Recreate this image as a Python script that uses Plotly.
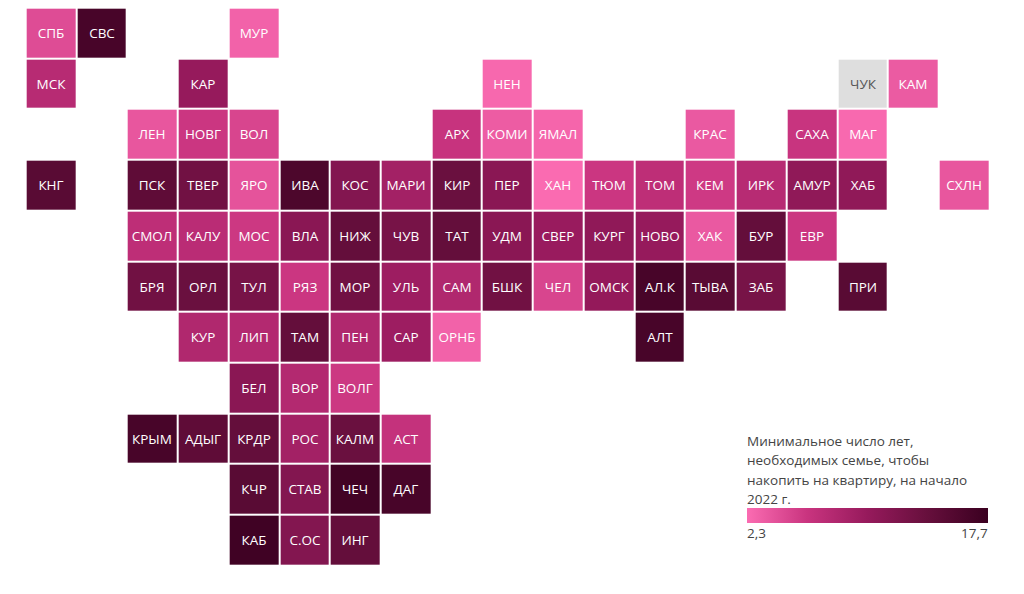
import plotly.graph_objects as go

# tile grid of Russian regions, None = no data
regions = ["СПБ", "СВС", "МУР",
           "МСК", "КАР", "НЕН", "ЧУК", "КАМ",
           "ЛЕН", "НОВГ", "ВОЛ", "АРХ", "КОМИ", "ЯМАЛ", "КРАС", "САХА", "МАГ",
           "КНГ", "ПСК", "ТВЕР", "ЯРО", "ИВА", "КОС", "МАРИ", "КИР", "ПЕР", "ХАН", "ТЮМ", "ТОМ", "КЕМ", "ИРК", "АМУР", "ХАБ", "СХЛН",
           "СМОЛ", "КАЛУ", "МОС", "ВЛА", "НИЖ", "ЧУВ", "ТАТ", "УДМ", "СВЕР", "КУРГ", "НОВО", "ХАК", "БУР", "ЕВР",
           "БРЯ", "ОРЛ", "ТУЛ", "РЯЗ", "МОР", "УЛЬ", "САМ", "БШК", "ЧЕЛ", "ОМСК", "АЛ.К", "ТЫВА", "ЗАБ", "ПРИ",
           "КУР", "ЛИП", "ТАМ", "ПЕН", "САР", "ОРНБ", "АЛТ",
           "БЕЛ", "ВОР", "ВОЛГ",
           "КРЫМ", "АДЫГ", "КРДР", "РОС", "КАЛМ", "АСТ",
           "КЧР", "СТАВ", "ЧЕЧ", "ДАГ",
           "КАБ", "С.ОС", "ИНГ"]
columns = [0, 1, 4,
           0, 3, 9, 16, 17,
           2, 3, 4, 8, 9, 10, 13, 15, 16,
           0, 2, 3, 4, 5, 6, 7, 8, 9, 10, 11, 12, 13, 14, 15, 16, 18,
           2, 3, 4, 5, 6, 7, 8, 9, 10, 11, 12, 13, 14, 15,
           2, 3, 4, 5, 6, 7, 8, 9, 10, 11, 12, 13, 14, 16,
           3, 4, 5, 6, 7, 8, 12,
           4, 5, 6,
           2, 3, 4, 5, 6, 7,
           4, 5, 6, 7,
           4, 5, 6]
rows = [0] * 3 + [1] * 5 + [2] * 9 + [3] * 17 + [4] * 14 + [5] * 14 + [6] * 7 + [7] * 3 + [8] * 6 + [9] * 4 + [10] * 3
years = [4.5, 16.5, 3.0,
         7.5, 10.0, 2.6, None, 3.5,
         3.8, 6.0, 5.0, 6.3, 3.4, 2.8, 3.6, 6.2, 2.5,
         15.0, 14.5, 13.0, 4.0, 16.0, 11.5, 9.0, 13.5, 11.0, 2.4, 6.0, 7.0, 5.8, 7.5, 10.5, 10.5, 3.8,
         7.0, 7.3, 5.9, 11.0, 14.0, 12.5, 14.0, 11.0, 9.8, 10.5, 10.0, 3.6, 14.0, 6.0,
         13.0, 13.5, 12.5, 6.0, 13.0, 9.5, 8.0, 13.0, 5.0, 10.2, 16.5, 15.0, 12.5, 15.0,
         8.0, 7.8, 14.0, 8.0, 9.5, 3.0, 16.5,
         11.0, 7.8, 5.9,
         16.5, 14.5, 14.0, 9.0, 13.5, 6.5,
         15.0, 11.5, 17.0, 16.5,
         17.2, 11.5, 14.0]

legend_lines = ["Минимальное число лет,", "необходимых семье, чтобы", "накопить на квартиру, на начало", "2022 г."]
legend_line_y = [441, 460, 480, 499]
legend_min = 2.3
legend_max = 17.7

colors = [[0, "#fb6cb2"], [0.25, "#c9347f"], [0.5, "#961a5c"], [0.75, "#660f3c"], [1, "#3a0020"]]

# body of the page keeps its 8px margin, so everything is shifted by that
W, H = 1008, 578
step = 50.72
cx, cy = 51 - 8, 33 - 8
text_font = dict(family="Open Sans", size=13.5, color="#444444")

fig = go.Figure()

# regions with a value
fig.add_trace(go.Heatmap(
    x=columns, y=rows, z=years, text=regions, texttemplate="%{text}",
    textfont=dict(family="Open Sans", size=13.5, color="#ffffff"),
    colorscale=colors, zmin=legend_min, zmax=legend_max, xgap=2, ygap=2,
    hoverongaps=False,
    colorbar=dict(orientation="h", x=(747 - 8) / W, xanchor="left", y=1 - (508 - 8) / H, yanchor="top",
                  len=241 / W, lenmode="fraction", thickness=15, thicknessmode="pixels",
                  outlinewidth=0, ticks="", showticklabels=False, xpad=0, ypad=0),
))

# regions without data are grey
fig.add_trace(go.Heatmap(
    x=columns, y=rows, z=[1 if v is None else None for v in years],
    text=[r if v is None else "" for r, v in zip(regions, years)], texttemplate="%{text}",
    textfont=dict(family="Open Sans", size=13.5, color="#555555"),
    colorscale=[[0, "#dedede"], [1, "#dedede"]], showscale=False, xgap=2, ygap=2, hoverongaps=False,
))

# legend title goes line by line, annotations have no line height setting
for line, y in zip(legend_lines, legend_line_y):
    fig.add_annotation(text=line, xref="paper", yref="paper", x=(745 - 8) / W, y=1 - (y - 8) / H,
                       xanchor="left", yanchor="middle", align="left", showarrow=False, font=text_font)
fig.add_annotation(text=str(legend_min).replace(".", ","), xref="paper", yref="paper",
                   x=(745 - 8) / W, y=1 - (533 - 8) / H, xanchor="left", yanchor="middle", showarrow=False,
                   font=text_font)
fig.add_annotation(text=str(legend_max).replace(".", ","), xref="paper", yref="paper",
                   x=(990 - 8) / W, y=1 - (533 - 8) / H, xanchor="right", yanchor="middle", showarrow=False,
                   font=text_font)

fig.update_layout(width=W, height=H, margin=dict(l=0, r=0, t=0, b=0),
                  paper_bgcolor="white", plot_bgcolor="white",
                  xaxis=dict(visible=False, range=[-cx / step, (W - cx) / step]),
                  yaxis=dict(visible=False, range=[(H - cy) / step, -cy / step]))

fig.write_html("out.html")
